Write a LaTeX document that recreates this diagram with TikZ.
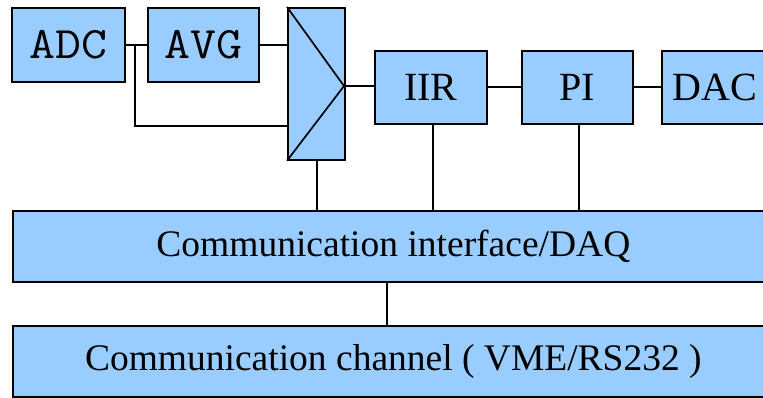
\documentclass[tikz,border=0pt]{standalone}
\usepackage{fontspec}
\setmainfont{Liberation Serif}
\definecolor{boxblue}{RGB}{153,204,255}
\newcommand{\wideTT}[1]{\scalebox{1.12}[1]{#1}}
\tikzset{
  x=1pt, y=-1pt,
  blk/.style={draw=black, line width=1.7pt, fill=boxblue, inner sep=0pt, anchor=north west},
  wire/.style={draw=black, line width=1.7pt},
  cfont/.style={font=\fontsize{45}{45}\selectfont\ttfamily},
  tfont/.style={font=\fontsize{40}{40}\selectfont},
  bfont/.style={font=\fontsize{37.5}{37.5}\selectfont},
}
\begin{document}
\begin{tikzpicture}
\useasboundingbox (0,0) rectangle (763,398);
\fill[white] (0,0) rectangle (763,398);
\clip (0,0) rectangle (763,398);
% top row
\node[blk, cfont, minimum width=113pt, minimum height=74pt] (adc) at (11,7) {\wideTT{ADC}};
\node[blk, cfont, minimum width=111pt, minimum height=74pt] (avg) at (147,7) {\wideTT{AVG}};
\node[blk, minimum width=57pt, minimum height=152pt] (mux) at (287,7) {};
\node[blk, tfont, minimum width=112pt, minimum height=73pt] (iir) at (374,50) {IIR};
\node[blk, tfont, minimum width=111pt, minimum height=73pt] (pi) at (521,50) {PI};
\node[blk, tfont, minimum width=106pt, minimum height=73pt] (dac) at (661,50) {DAC};
% bottom bars
\node[blk, bfont, minimum width=761pt, minimum height=71pt] (ifc) at (12,210) {Communication interface/DAQ};
\node[blk, bfont, minimum width=761pt, minimum height=71pt] (ch) at (12,325) {Communication channel ( VME/RS232 )};
% helper coordinates
\coordinate (tip) at (344,86);
\coordinate (br) at (135,44);
\coordinate (mlow) at (287,126);
\coordinate (vch) at (387,281);
\coordinate (mb) at (317,159);
\coordinate (ib) at (433,123);
\coordinate (pb) at (579,123);
% mux diagonals
\draw[wire] (mux.north west) -- (tip) -- (mux.south west);
% connectors
\draw[wire] (adc.east) -- (avg.west);
\draw[wire] (br) |- (mlow);
\draw[wire] (avg.east) -- (avg.east -| mux.west);
\draw[wire] (tip) -- (tip -| iir.west);
\draw[wire] (iir.east) -- (pi.west);
\draw[wire] (pi.east) -- (dac.west);
\draw[wire] (mb) -- (mb |- ifc.north);
\draw[wire] (ib) -- (ib |- ifc.north);
\draw[wire] (pb) -- (pb |- ifc.north);
\draw[wire] (vch) -- (vch |- ch.north);
\end{tikzpicture}
\end{document}
